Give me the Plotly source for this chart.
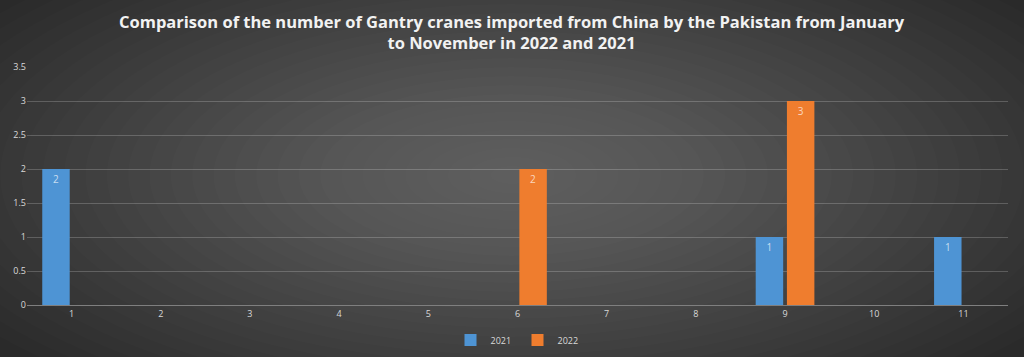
import plotly.graph_objects as go

months = [1, 2, 3, 4, 5, 6, 7, 8, 9, 10, 11]
tick_labels = ["1", "2", "3", "4", "5", "6", "7", "8", "9", "10", "11"]
v2021 = [2, 0, 0, 0, 0, 0, 0, 0, 1, 0, 1]
v2022 = [0, 0, 0, 0, 0, 2, 0, 0, 3, 0, 0]
title_text = ("Comparison of the number of Gantry cranes imported from China by the Pakistan from January"
              "<br>to November in 2022 and 2021")

def labels(vals):
    return [str(v) if v else "" for v in vals]

fig = go.Figure()
fig.add_trace(go.Bar(
    x=months, y=v2021, name="2021",
    marker=dict(color="#4e94d4", line=dict(width=0)),
    text=labels(v2021), textposition="inside", insidetextanchor="end",
    textfont=dict(color="rgba(255,255,255,0.7)", size=10, family="Open Sans"),
    textangle=0,
))
fig.add_trace(go.Bar(
    x=months, y=v2022, name="2022",
    marker=dict(color="#ef7d2e", line=dict(width=0)),
    text=labels(v2022), textposition="inside", insidetextanchor="end",
    textfont=dict(color="rgba(255,255,255,0.7)", size=10, family="Open Sans"),
    textangle=0,
))

# radial gradient background approximated by concentric translucent ellipses
W, H = 1024, 357
ml, mr, mt, mb = 27, 16, 67, 52
pw, ph = W - ml - mr, H - mt - mb
shapes = []
N = 30
cx, cy = 512, 175
for i in range(N):
    f = 1 - i / N
    rx = 640 * f
    ry = 270 * f
    x0 = (cx - rx - ml) / pw
    x1 = (cx + rx - ml) / pw
    y0 = (H - mb - (cy + ry)) / ph
    y1 = (H - mb - (cy - ry)) / ph
    shapes.append(dict(type="circle", xref="paper", yref="paper",
                       x0=x0, x1=x1, y0=y0, y1=y1, layer="below",
                       fillcolor="rgba(255,255,255,0.011)", line=dict(width=0)))

fig.update_layout(
    width=W, height=H,
    margin=dict(l=ml, r=mr, t=mt, b=mb, autoexpand=False),
    paper_bgcolor="#2a2a2a",
    plot_bgcolor="rgba(0,0,0,0)",
    shapes=shapes,
    barmode="group", bargap=0.3, bargroupgap=0.12,
    annotations=[dict(
        text=title_text, xref="paper", yref="paper",
        x=(512 - ml) / pw, xanchor="center",
        y=(H - mb - 8) / ph, yanchor="top", showarrow=False,
        font=dict(family="Open Sans", size=16.5, color="#f2f2f2", weight=700),
        align="center",
    )],
    xaxis=dict(
        range=[0.5, 11.5], tickmode="array", tickvals=months, ticktext=tick_labels,
        showgrid=False, zeroline=False, showline=True, linecolor="#7f7f7f", linewidth=1,
        tickfont=dict(family="Open Sans", size=9, color="#d9d9d9"), ticks="",
    ),
    yaxis=dict(
        range=[0, 3.5], dtick=0.5, showgrid=True, gridcolor="rgba(255,255,255,0.2)",
        gridwidth=1, zeroline=False, showline=False,
        tickfont=dict(family="Open Sans", size=9, color="#d9d9d9"), ticks="",
        tickformat="~g",
    ),
    legend=dict(
        orientation="h", x=0.5, xanchor="center", y=-(340 - (H - mb)) / ph, yanchor="middle",
        font=dict(family="Open Sans", size=9, color="#d9d9d9"),
        bgcolor="rgba(0,0,0,0)", itemwidth=30, entrywidth=22, entrywidthmode="pixels",
        tracegroupgap=0,
    ),
    showlegend=True,
)

fig.write_html("out.html")
